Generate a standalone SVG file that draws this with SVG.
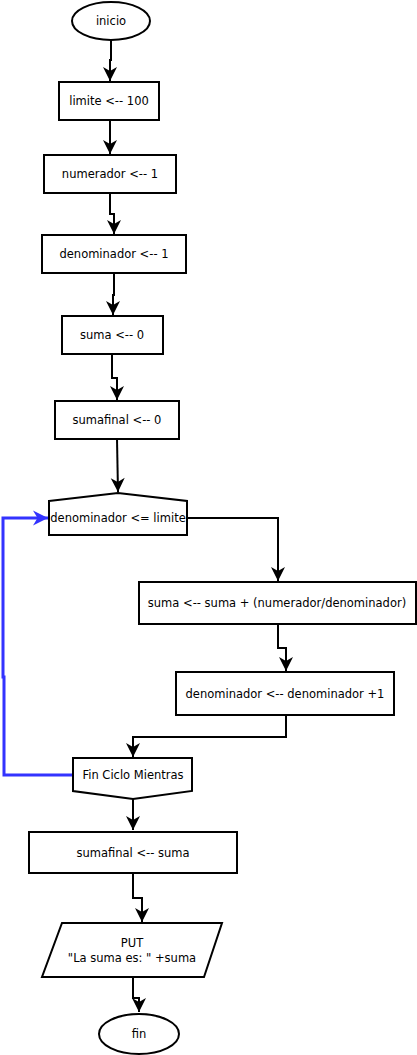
<svg xmlns="http://www.w3.org/2000/svg" width="417" height="1055" viewBox="0 0 417 1055">
<defs>
<style>
.n{fill:#fff;stroke:#000;stroke-width:2}
.t{font-family:"DejaVu Sans",Verdana,sans-serif;font-size:11.5px;fill:#000;text-anchor:middle;dominant-baseline:central}
.c{fill:none;stroke:#000;stroke-width:2}
.b{fill:none;stroke:#3333ff;stroke-width:3}
</style>
<marker id="a" markerUnits="userSpaceOnUse" markerWidth="16" markerHeight="16" refX="14" refY="7" orient="auto" overflow="visible">
<path d="M0,0 L14,7 L0,14 L4,7 Z" fill="#000"/>
</marker>
<marker id="ab" markerUnits="userSpaceOnUse" markerWidth="18" markerHeight="18" refX="15" refY="7.5" orient="auto" overflow="visible">
<path d="M0,0 L15,7.5 L0,15 L4.5,7.5 Z" fill="#3333ff"/>
</marker>
</defs>
<rect width="417" height="1055" fill="#fff"/>
<g id="connectors">
<path class="c" d="M111,40 V60 H110 V81" marker-end="url(#a)"/>
<path class="c" d="M110,120 V154" marker-end="url(#a)"/>
<path class="c" d="M110,193 V214 H114 V234" marker-end="url(#a)"/>
<path class="c" d="M114,273 V295 H113 V315" marker-end="url(#a)"/>
<path class="c" d="M112,354 V378 H117 V400" marker-end="url(#a)"/>
<path class="c" d="M117,439 L118,492" marker-end="url(#a)"/>
<path class="c" d="M187,518 H278 V581" marker-end="url(#a)"/>
<path class="c" d="M278,624 V648 H286 V671" marker-end="url(#a)"/>
<path class="c" d="M286,715 V737 H133 V757" marker-end="url(#a)"/>
<path class="c" d="M133,799 V812 H133 V830" marker-end="url(#a)"/>
<path class="c" d="M133,873 V898 H142 V922" marker-end="url(#a)"/>
<path class="c" d="M133,977 V998 H139 V1012" marker-end="url(#a)"/>
<path class="b" d="M73,775 H4 V677 H3 V518 H48" marker-end="url(#ab)"/>
</g>
<g id="inicio"><ellipse class="n" cx="111" cy="21" rx="39" ry="19"/><text class="t" x="111" y="21">inicio</text></g>
<g id="limite"><rect class="n" x="59" y="82" width="100" height="38"/><text class="t" x="109" y="101">limite &lt;-- 100</text></g>
<g id="numerador"><rect class="n" x="44" y="155" width="132" height="38"/><text class="t" x="110" y="174">numerador &lt;-- 1</text></g>
<g id="denominador"><rect class="n" x="42" y="235" width="144" height="38"/><text class="t" x="114" y="254">denominador &lt;-- 1</text></g>
<g id="suma"><rect class="n" x="62" y="316" width="101" height="38"/><text class="t" x="112" y="335">suma &lt;-- 0</text></g>
<g id="sumafinal"><rect class="n" x="55" y="401" width="124" height="38"/><text class="t" x="117" y="420">sumafinal &lt;-- 0</text></g>
<g id="mientras"><path class="n" d="M49,501 L118,493 L187,501 V535 H49 Z"/><text class="t" x="118" y="518">denominador &lt;= limite</text></g>
<g id="sumar"><rect class="n" x="139" y="582" width="277" height="42"/><text class="t" x="277" y="603">suma &lt;-- suma + (numerador/denominador)</text></g>
<g id="incremento"><rect class="n" x="176" y="672" width="218" height="43"/><text class="t" x="285" y="694">denominador &lt;-- denominador +1</text></g>
<g id="finciclo"><path class="n" d="M73,758 H192 V791 L133,799 L73,791 Z"/><text class="t" x="133" y="775">Fin Ciclo Mientras</text></g>
<g id="sumafinal2"><rect class="n" x="29" y="832" width="208" height="41"/><text class="t" x="133" y="853">sumafinal &lt;-- suma</text></g>
<g id="put"><path class="n" d="M62,923 H222 L204,977 H42 Z"/><text class="t" x="132" y="943">PUT</text><text class="t" x="132" y="958">"La suma es: " +suma</text></g>
<g id="fin"><ellipse class="n" cx="139" cy="1034" rx="40" ry="20"/><text class="t" x="139" y="1034">fin</text></g>
</svg>
